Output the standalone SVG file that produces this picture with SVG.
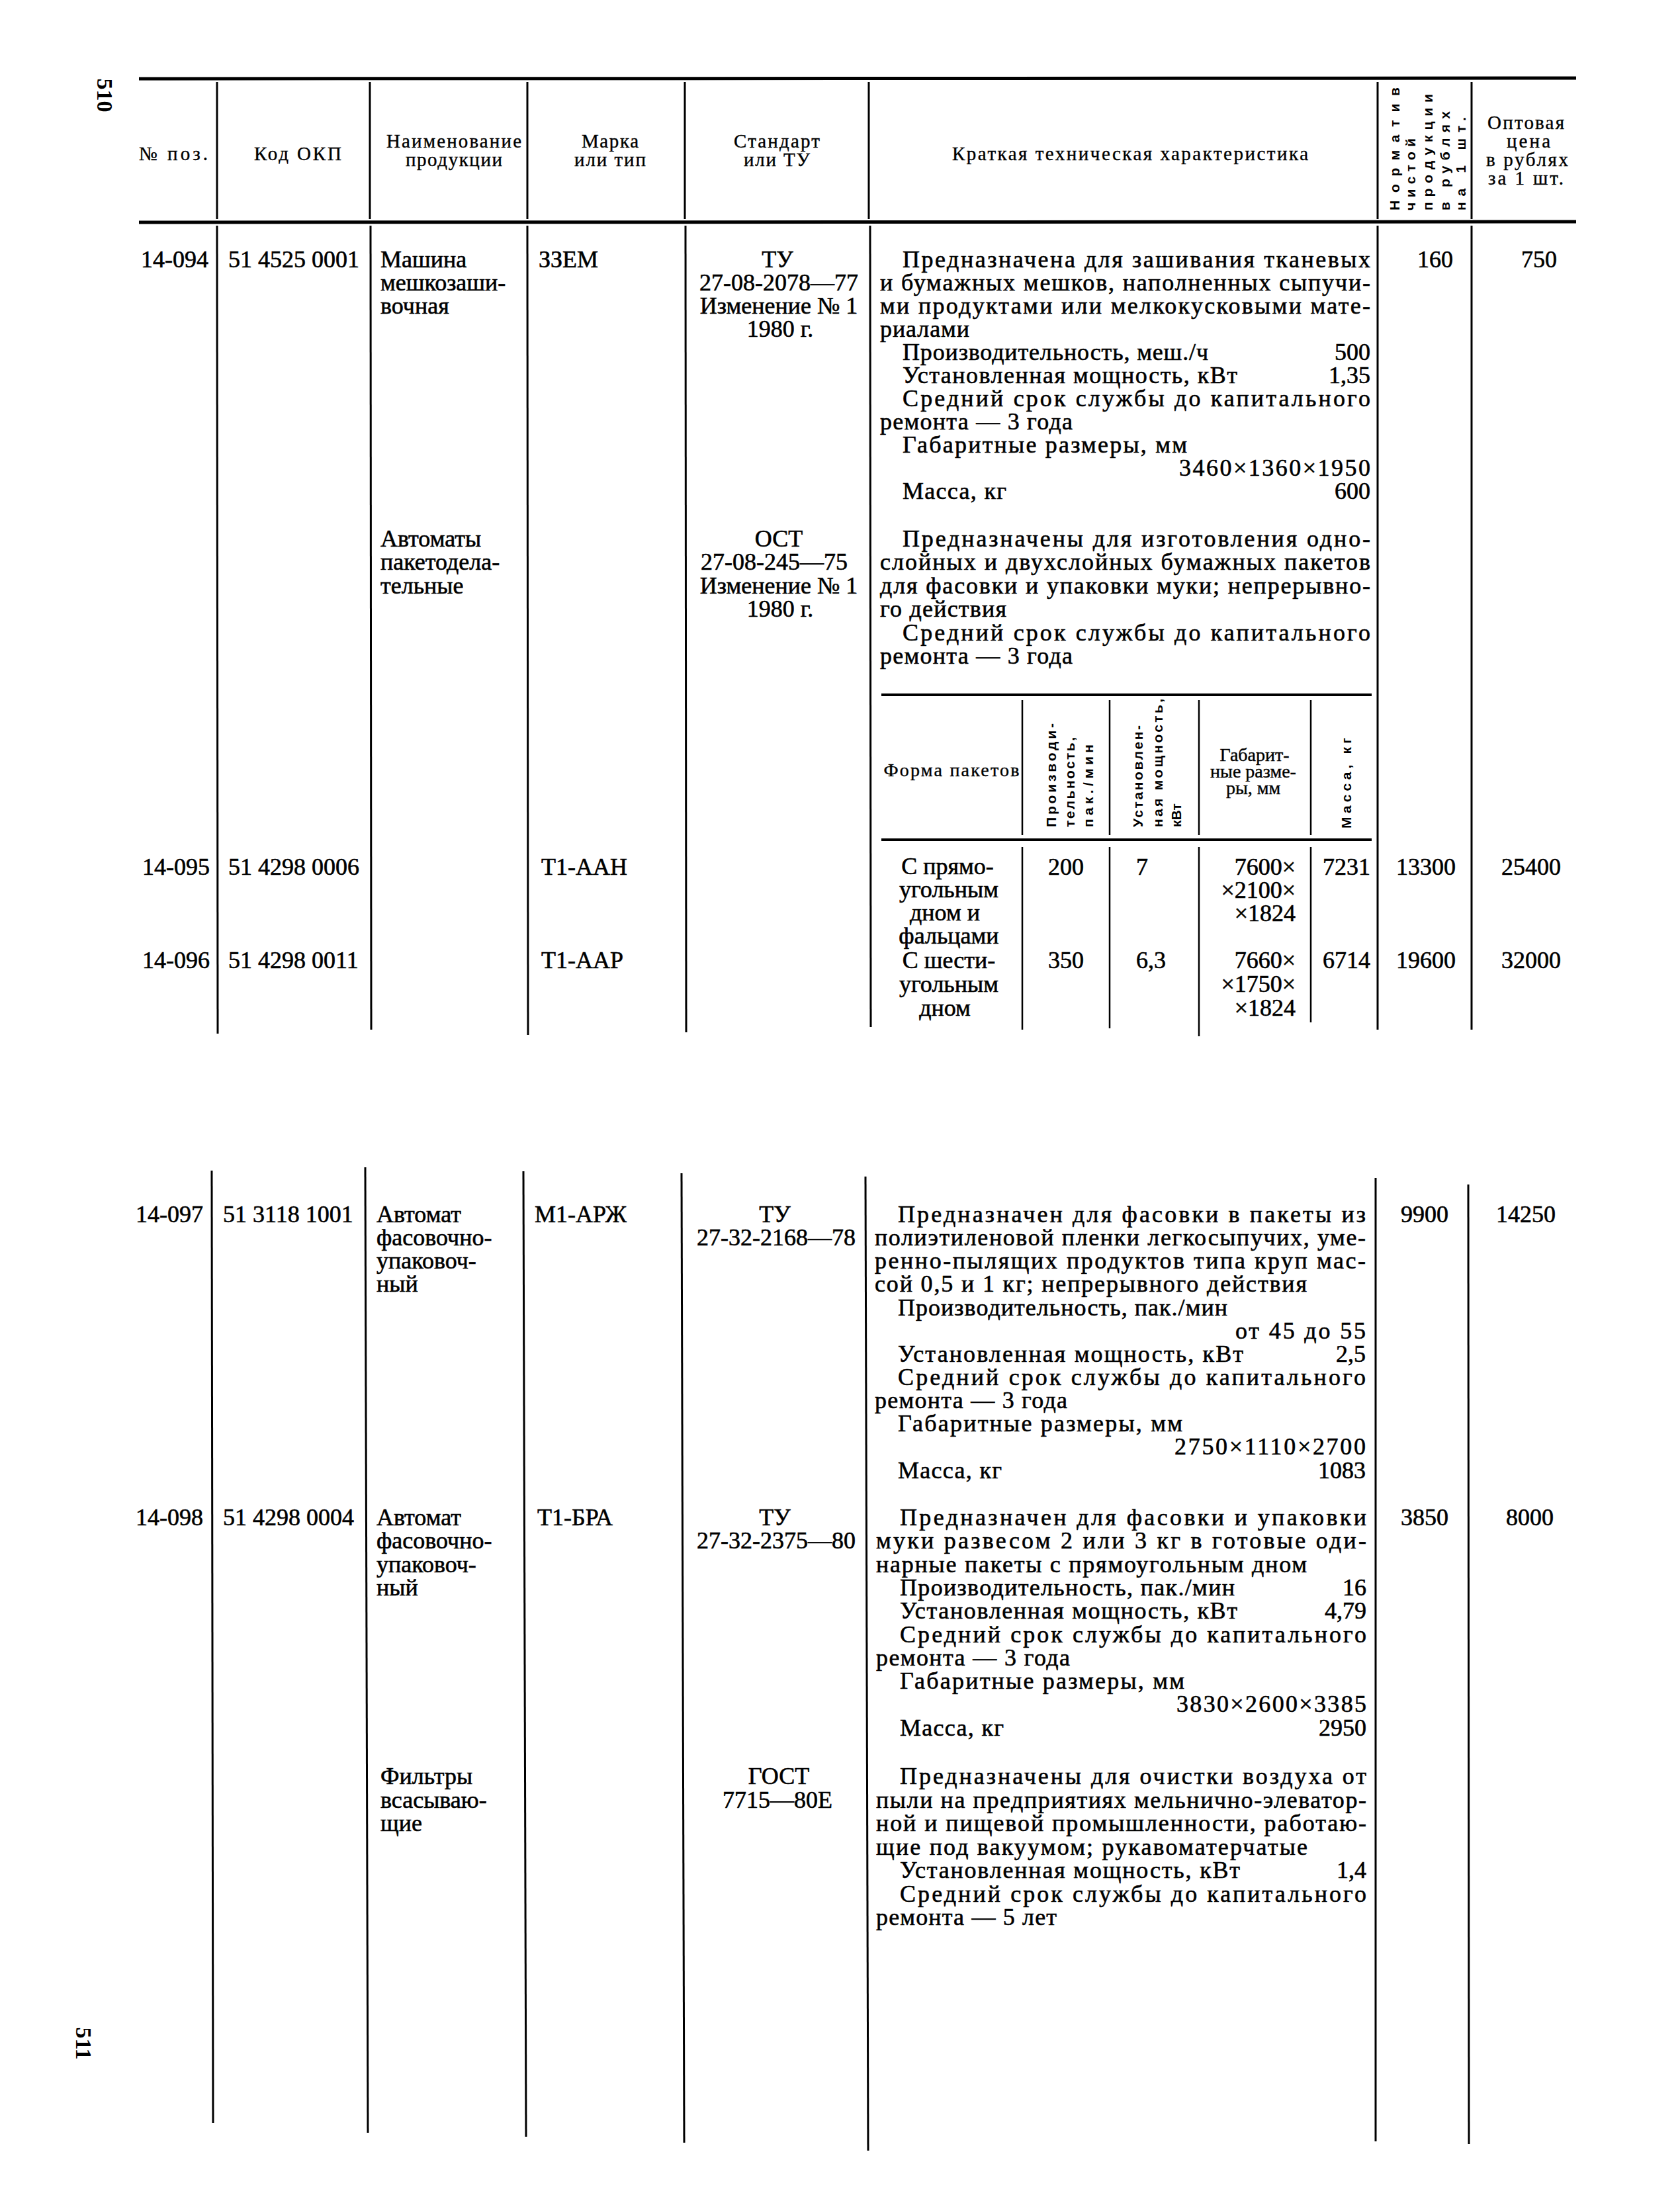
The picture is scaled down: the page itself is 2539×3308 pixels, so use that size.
<svg xmlns="http://www.w3.org/2000/svg" width="2539" height="3308" viewBox="0 0 2539 3308">
<style>
text{font-family:"Liberation Serif","Times New Roman",serif;fill:#000}
.t{font-size:36px;stroke:#000;stroke-width:0.6px}
.h{font-size:29px;stroke:#000;stroke-width:0.4px}
.s{font-size:28px;stroke:#000;stroke-width:0.4px}
.v{font-family:"Liberation Sans",Arial,sans-serif;font-size:21px;font-weight:bold}
.pn{font-size:34px;font-weight:bold}
.m{text-anchor:middle}
.e{text-anchor:end}
line{stroke:#000;stroke-width:3}
.rule{stroke-width:5}
.sr{stroke-width:4}
.thin{stroke-width:2.5}
</style>
<rect width="2539" height="3308" fill="#fff"/>

<g id="page-numbers">
<text class="pn m" transform="translate(147,144) rotate(90)">510</text>
<text class="pn m" transform="translate(115,3088) rotate(90)">511</text>
</g>

<g id="connectors">
<line class="rule" x1="210" y1="119" x2="2382" y2="118"/>
<line class="rule" x1="210" y1="336" x2="2382" y2="335"/>
<line x1="328" y1="124" x2="328" y2="331"/>
<line x1="559" y1="124" x2="559" y2="331"/>
<line x1="797" y1="124" x2="797" y2="331"/>
<line x1="1035" y1="124" x2="1035" y2="331"/>
<line x1="1313" y1="124" x2="1313" y2="331"/>
<line x1="2082" y1="124" x2="2082" y2="331"/>
<line x1="2224" y1="124" x2="2224" y2="331"/>
<line x1="328" y1="341" x2="329" y2="1562"/>
<line x1="560" y1="341" x2="561" y2="1556"/>
<line x1="797" y1="341" x2="798" y2="1564"/>
<line x1="1036" y1="341" x2="1037" y2="1560"/>
<line x1="1315" y1="341" x2="1316" y2="1552"/>
<line x1="2082" y1="341" x2="2082" y2="1556"/>
<line x1="2224" y1="341" x2="2224" y2="1556"/>
<line class="sr" x1="1332" y1="1050" x2="2073" y2="1050"/>
<line class="sr" x1="1332" y1="1269" x2="2073" y2="1269"/>
<line class="thin" x1="1545" y1="1058" x2="1545" y2="1262"/>
<line class="thin" x1="1677" y1="1058" x2="1677" y2="1262"/>
<line class="thin" x1="1812" y1="1058" x2="1812" y2="1262"/>
<line class="thin" x1="1981" y1="1058" x2="1981" y2="1262"/>
<line class="thin" x1="1545" y1="1280" x2="1545" y2="1556"/>
<line class="thin" x1="1677" y1="1280" x2="1677" y2="1554"/>
<line class="thin" x1="1812" y1="1280" x2="1812" y2="1566"/>
<line class="thin" x1="1981" y1="1280" x2="1981" y2="1545"/>
<line x1="320" y1="1769" x2="322" y2="3208"/>
<line x1="552" y1="1764" x2="556" y2="3223"/>
<line x1="791" y1="1770" x2="795" y2="3229"/>
<line x1="1030" y1="1773" x2="1034" y2="3238"/>
<line x1="1308" y1="1778" x2="1312" y2="3250"/>
<line x1="2079" y1="1780" x2="2079" y2="3236"/>
<line x1="2219" y1="1790" x2="2220" y2="3240"/>
</g>

<g id="header">
<text class="h m" x="262" y="242" textLength="104">№ поз.</text>
<text class="h m" x="450" y="242" textLength="132">Код ОКП</text>
<text class="h m" x="686" y="223" textLength="204">Наименование</text>
<text class="h m" x="686" y="251" textLength="146">продукции</text>
<text class="h m" x="922" y="223" textLength="86">Марка</text>
<text class="h m" x="922" y="251" textLength="108">или тип</text>
<text class="h m" x="1174" y="223" textLength="130">Стандарт</text>
<text class="h m" x="1174" y="251" textLength="100">или ТУ</text>
<text class="h m" x="1708" y="242" textLength="538">Краткая техническая характеристика</text>
<text class="v" transform="translate(2115,318) rotate(-90)" textLength="186">Норматив</text>
<text class="v" transform="translate(2139,318) rotate(-90)" textLength="109">чистой</text>
<text class="v" transform="translate(2165,318) rotate(-90)" textLength="176">продукции</text>
<text class="v" transform="translate(2191,318) rotate(-90)" textLength="150">в рублях</text>
<text class="v" transform="translate(2215,318) rotate(-90)" textLength="141">на 1 шт.</text>
<text class="h m" x="2306" y="195" textLength="116">Оптовая</text>
<text class="h m" x="2310" y="223" textLength="66">цена</text>
<text class="h m" x="2308" y="251" textLength="124">в рублях</text>
<text class="h m" x="2306" y="279" textLength="114">за 1 шт.</text>
</g>

<g id="row-14-094">
<text class="t e" x="315" y="404">14-094</text>
<text class="t" x="345" y="404">51 4525 0001</text>
<text class="t" x="575" y="404">Машина</text>
<text class="t" x="575" y="439">мешкозаши-</text>
<text class="t" x="575" y="474">вочная</text>
<text class="t" x="814" y="404">ЗЗЕМ</text>
<text class="t m" x="1175" y="404">ТУ</text>
<text class="t m" x="1177" y="439">27-08-2078—77</text>
<text class="t m" x="1177" y="474">Изменение № 1</text>
<text class="t m" x="1179" y="509">1980 г.</text>
<text class="t" x="1364" y="404" textLength="707">Предназначена для зашивания тканевых</text>
<text class="t" x="1330" y="439" textLength="741">и бумажных мешков, наполненных сыпучи-</text>
<text class="t" x="1330" y="474" textLength="741">ми продуктами или мелкокусковыми мате-</text>
<text class="t" x="1330" y="509" textLength="135">риалами</text>
<text class="t" x="1364" y="544" textLength="462">Производительность, меш./ч</text>
<text class="t e" x="2071" y="544">500</text>
<text class="t" x="1364" y="579" textLength="506">Установленная мощность, кВт</text>
<text class="t e" x="2071" y="579">1,35</text>
<text class="t" x="1364" y="614" textLength="707">Средний срок службы до капитального</text>
<text class="t" x="1330" y="649" textLength="291">ремонта — 3 года</text>
<text class="t" x="1364" y="684" textLength="430">Габаритные размеры, мм</text>
<text class="t e" x="2071" y="719" textLength="289">3460×1360×1950</text>
<text class="t" x="1364" y="754" textLength="157">Масса, кг</text>
<text class="t e" x="2071" y="754">600</text>
<text class="t m" x="2169" y="404">160</text>
<text class="t m" x="2326" y="404">750</text>
</g>

<g id="item-avtomaty">
<text class="t" x="575" y="826">Автоматы</text>
<text class="t" x="575" y="861">пакетодела-</text>
<text class="t" x="575" y="897">тельные</text>
<text class="t m" x="1177" y="826">ОСТ</text>
<text class="t m" x="1170" y="861">27-08-245—75</text>
<text class="t m" x="1177" y="897">Изменение № 1</text>
<text class="t m" x="1179" y="932">1980 г.</text>
<text class="t" x="1364" y="826" textLength="707">Предназначены для изготовления одно-</text>
<text class="t" x="1330" y="861" textLength="741">слойных и двухслойных бумажных пакетов</text>
<text class="t" x="1330" y="897" textLength="741">для фасовки и упаковки муки; непрерывно-</text>
<text class="t" x="1330" y="932" textLength="191">го действия</text>
<text class="t" x="1364" y="968" textLength="707">Средний срок службы до капитального</text>
<text class="t" x="1330" y="1003" textLength="291">ремонта — 3 года</text>
</g>

<g id="subtable-header">
<text class="s m" x="1438" y="1173" textLength="205">Форма пакетов</text>
<text class="v" transform="translate(1596,1250) rotate(-90)" textLength="157">Производи-</text>
<text class="v" transform="translate(1624,1250) rotate(-90)" textLength="136">тельность,</text>
<text class="v" transform="translate(1652,1250) rotate(-90)" textLength="125">пак./мин</text>
<text class="v" transform="translate(1727,1250) rotate(-90)" textLength="154">Установлен-</text>
<text class="v" transform="translate(1757,1250) rotate(-90)" textLength="194">ная мощность,</text>
<text class="v" transform="translate(1785,1250) rotate(-90)">кВт</text>
<text class="s m" x="1896" y="1150">Габарит-</text>
<text class="s m" x="1894" y="1175">ные разме-</text>
<text class="s m" x="1894" y="1200">ры, мм</text>
<text class="v" transform="translate(2042,1252) rotate(-90)" textLength="137">Масса, кг</text>
</g>

<g id="row-14-095">
<text class="t e" x="317" y="1322">14-095</text>
<text class="t" x="345" y="1322">51 4298 0006</text>
<text class="t" x="818" y="1322">Т1-ААН</text>
<text class="t m" x="1432" y="1321">С прямо-</text>
<text class="t m" x="1434" y="1356">угольным</text>
<text class="t m" x="1428" y="1391">дном и</text>
<text class="t m" x="1434" y="1426">фальцами</text>
<text class="t m" x="1611" y="1322">200</text>
<text class="t" x="1717" y="1322">7</text>
<text class="t e" x="1958" y="1322">7600×</text>
<text class="t e" x="1958" y="1357">×2100×</text>
<text class="t e" x="1958" y="1392">×1824</text>
<text class="t e" x="2071" y="1322">7231</text>
<text class="t m" x="2155" y="1322">13300</text>
<text class="t m" x="2314" y="1322">25400</text>
</g>

<g id="row-14-096">
<text class="t e" x="317" y="1463">14-096</text>
<text class="t" x="345" y="1463">51 4298 0011</text>
<text class="t" x="818" y="1463">Т1-ААР</text>
<text class="t m" x="1434" y="1463">С шести-</text>
<text class="t m" x="1434" y="1499">угольным</text>
<text class="t m" x="1428" y="1535">дном</text>
<text class="t m" x="1611" y="1463">350</text>
<text class="t" x="1717" y="1463">6,3</text>
<text class="t e" x="1958" y="1463">7660×</text>
<text class="t e" x="1958" y="1499">×1750×</text>
<text class="t e" x="1958" y="1535">×1824</text>
<text class="t e" x="2071" y="1463">6714</text>
<text class="t m" x="2155" y="1463">19600</text>
<text class="t m" x="2314" y="1463">32000</text>
</g>

<g id="row-14-097">
<text class="t e" x="307" y="1847">14-097</text>
<text class="t" x="337" y="1847">51 3118 1001</text>
<text class="t" x="569" y="1847">Автомат</text>
<text class="t" x="569" y="1882">фасовочно-</text>
<text class="t" x="569" y="1917">упаковоч-</text>
<text class="t" x="569" y="1952">ный</text>
<text class="t" x="808" y="1847">М1-АРЖ</text>
<text class="t m" x="1171" y="1847">ТУ</text>
<text class="t m" x="1173" y="1882">27-32-2168—78</text>
<text class="t" x="1357" y="1847" textLength="707">Предназначен для фасовки в пакеты из</text>
<text class="t" x="1322" y="1882" textLength="742">полиэтиленовой пленки легкосыпучих, уме-</text>
<text class="t" x="1322" y="1917" textLength="742">ренно-пылящих продуктов типа круп мас-</text>
<text class="t" x="1322" y="1952" textLength="653">сой 0,5 и 1 кг; непрерывного действия</text>
<text class="t" x="1357" y="1988" textLength="498">Производительность, пак./мин</text>
<text class="t e" x="2064" y="2023" textLength="197">от 45 до 55</text>
<text class="t" x="1357" y="2058" textLength="522">Установленная мощность, кВт</text>
<text class="t e" x="2064" y="2058">2,5</text>
<text class="t" x="1357" y="2093" textLength="707">Средний срок службы до капитального</text>
<text class="t" x="1322" y="2128" textLength="291">ремонта — 3 года</text>
<text class="t" x="1357" y="2163" textLength="430">Габаритные размеры, мм</text>
<text class="t e" x="2064" y="2198" textLength="289">2750×1110×2700</text>
<text class="t" x="1357" y="2234" textLength="157">Масса, кг</text>
<text class="t e" x="2064" y="2234">1083</text>
<text class="t m" x="2153" y="1847">9900</text>
<text class="t m" x="2306" y="1847">14250</text>
</g>

<g id="row-14-098">
<text class="t e" x="307" y="2305">14-098</text>
<text class="t" x="337" y="2305">51 4298 0004</text>
<text class="t" x="569" y="2305">Автомат</text>
<text class="t" x="569" y="2340">фасовочно-</text>
<text class="t" x="569" y="2376">упаковоч-</text>
<text class="t" x="569" y="2411">ный</text>
<text class="t" x="812" y="2305">Т1-БРА</text>
<text class="t m" x="1171" y="2305">ТУ</text>
<text class="t m" x="1173" y="2340">27-32-2375—80</text>
<text class="t" x="1360" y="2305" textLength="705">Предназначен для фасовки и упаковки</text>
<text class="t" x="1324" y="2340" textLength="741">муки развесом 2 или 3 кг в готовые оди-</text>
<text class="t" x="1324" y="2376" textLength="651">нарные пакеты с прямоугольным дном</text>
<text class="t" x="1360" y="2411" textLength="506">Производительность, пак./мин</text>
<text class="t e" x="2065" y="2411">16</text>
<text class="t" x="1360" y="2446" textLength="510">Установленная мощность, кВт</text>
<text class="t e" x="2065" y="2446">4,79</text>
<text class="t" x="1360" y="2482" textLength="705">Средний срок службы до капитального</text>
<text class="t" x="1324" y="2517" textLength="293">ремонта — 3 года</text>
<text class="t" x="1360" y="2552" textLength="430">Габаритные размеры, мм</text>
<text class="t e" x="2065" y="2587" textLength="287">3830×2600×3385</text>
<text class="t" x="1360" y="2623" textLength="157">Масса, кг</text>
<text class="t e" x="2065" y="2623">2950</text>
<text class="t m" x="2153" y="2305">3850</text>
<text class="t m" x="2312" y="2305">8000</text>
</g>

<g id="item-filtry">
<text class="t" x="575" y="2696">Фильтры</text>
<text class="t" x="575" y="2732">всасываю-</text>
<text class="t" x="575" y="2767">щие</text>
<text class="t m" x="1177" y="2696">ГОСТ</text>
<text class="t m" x="1175" y="2732">7715—80Е</text>
<text class="t" x="1360" y="2696" textLength="705">Предназначены для очистки воздуха от</text>
<text class="t" x="1324" y="2732" textLength="741">пыли на предприятиях мельнично-элеватор-</text>
<text class="t" x="1324" y="2767" textLength="741">ной и пищевой промышленности, работаю-</text>
<text class="t" x="1324" y="2803" textLength="652">щие под вакуумом; рукавоматерчатые</text>
<text class="t" x="1360" y="2838" textLength="514">Установленная мощность, кВт</text>
<text class="t e" x="2065" y="2838">1,4</text>
<text class="t" x="1360" y="2874" textLength="705">Средний срок службы до капитального</text>
<text class="t" x="1324" y="2909" textLength="273">ремонта — 5 лет</text>
</g>
</svg>
